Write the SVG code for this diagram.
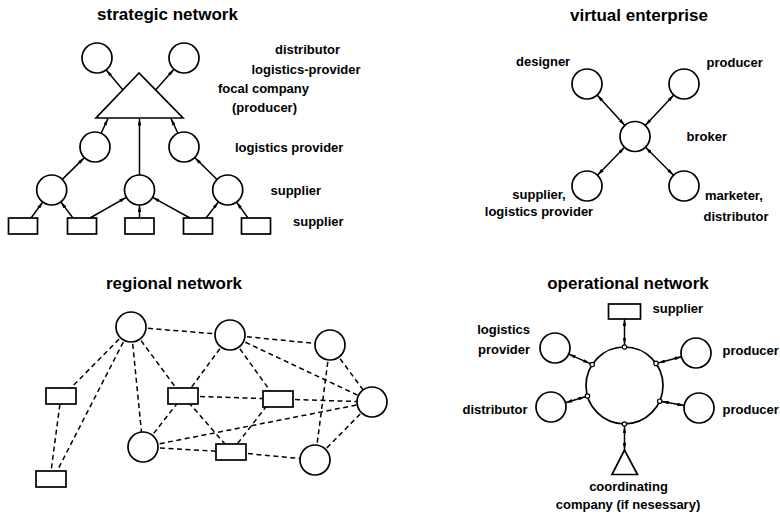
<svg xmlns="http://www.w3.org/2000/svg" width="780" height="517" viewBox="0 0 780 517">
  <style>
    .title { font-family: "Liberation Sans", Arial, sans-serif; font-weight: bold; font-size: 17px; fill: #000; text-anchor: middle; }
    .lbl { font-family: "Liberation Sans", Arial, sans-serif; font-weight: bold; font-size: 13px; fill: #000; }
    .mid { text-anchor: middle; }
    .end { text-anchor: end; }
    .shape { fill: #fff; stroke: #000; stroke-width: 1.7; }
    .port { fill: #fff; stroke: #000; stroke-width: 1.2; }
    .arrow { fill: none; stroke: #000; stroke-width: 1.5; marker-end: url(#head); }
    .both { fill: none; stroke: #000; stroke-width: 1.5; marker-start: url(#head); marker-end: url(#head); }
    .dash { fill: none; stroke: #000; stroke-width: 1.5; stroke-dasharray: 5 3.5; }
  </style>
  <defs>
    <marker id="head" viewBox="0 0 8 4" refX="8" refY="2" markerWidth="7" markerHeight="3.6" markerUnits="userSpaceOnUse" orient="auto-start-reverse">
      <path d="M0,0 L8,2 L0,4 z" fill="#000"/>
    </marker>
  </defs>
  <rect width="780" height="517" fill="#fff"/>

  <!-- ===== strategic network ===== -->
  <text class="title" x="167.5" y="20">strategic network</text>
  <g id="strategic-connectors">
    <line class="arrow" x1="123" y1="90" x2="106.2" y2="69.9"/>
    <line class="arrow" x1="155.6" y1="90" x2="174" y2="69.2"/>
    <line class="arrow" x1="101.1" y1="133.3" x2="108" y2="118.5"/>
    <line class="arrow" x1="177.9" y1="133.3" x2="171" y2="118.5"/>
    <line class="arrow" x1="139.5" y1="175" x2="139.5" y2="118.5"/>
    <line class="arrow" x1="62.3" y1="179.4" x2="84.4" y2="157.6"/>
    <line class="arrow" x1="217" y1="179.5" x2="194.7" y2="157.5"/>
    <line class="arrow" x1="31" y1="218" x2="42.8" y2="202.1"/>
    <line class="arrow" x1="73" y1="218" x2="60.8" y2="201.9"/>
    <line class="arrow" x1="90" y1="218" x2="126.2" y2="197.4"/>
    <line class="arrow" x1="139.5" y1="218" x2="139.5" y2="205"/>
    <line class="arrow" x1="190" y1="218" x2="152.6" y2="197.3"/>
    <line class="arrow" x1="206" y1="218" x2="218.5" y2="201.9"/>
    <line class="arrow" x1="248" y1="218" x2="236.5" y2="202.1"/>
  </g>
  <g id="sn-distributor-left"><circle class="shape" cx="97" cy="58" r="15"/></g>
  <g id="sn-distributor-right"><circle class="shape" cx="184" cy="58" r="15"/></g>
  <g id="sn-focal-company"><polygon class="shape" points="139,73 96,118 183,118"/></g>
  <g id="sn-logistics-left"><circle class="shape" cx="95" cy="147" r="15"/></g>
  <g id="sn-logistics-right"><circle class="shape" cx="184" cy="147" r="15"/></g>
  <g id="sn-supplier-1"><circle class="shape" cx="51.7" cy="190" r="15"/></g>
  <g id="sn-supplier-2"><circle class="shape" cx="139.5" cy="190" r="15"/></g>
  <g id="sn-supplier-3"><circle class="shape" cx="227.7" cy="190" r="15"/></g>
  <g id="sn-sub-1"><rect class="shape" x="8.5" y="218" width="29" height="16"/></g>
  <g id="sn-sub-2"><rect class="shape" x="67.5" y="218" width="29" height="16"/></g>
  <g id="sn-sub-3"><rect class="shape" x="125" y="218" width="29" height="16"/></g>
  <g id="sn-sub-4"><rect class="shape" x="183.5" y="218" width="29" height="16"/></g>
  <g id="sn-sub-5"><rect class="shape" x="241.5" y="218" width="29" height="16"/></g>
  <g id="sn-labels">
    <text class="lbl" x="275" y="54">distributor</text>
    <text class="lbl" x="251.5" y="74">logistics-provider</text>
    <text class="lbl" x="218" y="93">focal company</text>
    <text class="lbl" x="232" y="112">(producer)</text>
    <text class="lbl" x="235" y="151.5">logistics provider</text>
    <text class="lbl" x="270.5" y="195">supplier</text>
    <text class="lbl" x="293" y="226">supplier</text>
  </g>

  <!-- ===== virtual enterprise ===== -->
  <text class="title" x="639" y="20.5">virtual enterprise</text>
  <g id="virtual-connectors">
    <line class="both" x1="597.1" y1="95.1" x2="624.9" y2="125.4"/>
    <line class="both" x1="673.8" y1="95" x2="645.2" y2="125.5"/>
    <line class="both" x1="597.4" y1="175.2" x2="624.6" y2="147.3"/>
    <line class="both" x1="673.5" y1="175.3" x2="645.5" y2="147.3"/>
  </g>
  <g id="ve-designer"><circle class="shape" cx="587" cy="84" r="15"/></g>
  <g id="ve-producer"><circle class="shape" cx="684" cy="84" r="15"/></g>
  <g id="ve-broker"><circle class="shape" cx="635" cy="136.5" r="15"/></g>
  <g id="ve-supplier"><circle class="shape" cx="587" cy="186" r="15"/></g>
  <g id="ve-marketer"><circle class="shape" cx="684" cy="186" r="15"/></g>
  <g id="ve-labels">
    <text class="lbl" x="516" y="66">designer</text>
    <text class="lbl" x="706.5" y="66.5">producer</text>
    <text class="lbl" x="686.5" y="141">broker</text>
    <text class="lbl mid" x="539" y="198.5">supplier,</text>
    <text class="lbl mid" x="539" y="216">logistics provider</text>
    <text class="lbl" x="705" y="200">marketer,</text>
    <text class="lbl" x="703.5" y="220.5">distributor</text>
  </g>

  <!-- ===== regional network ===== -->
  <text class="title" x="174" y="289">regional network</text>
  <g id="regional-connectors">
    <line class="dash" x1="131" y1="327" x2="230" y2="335"/>
    <line class="dash" x1="230" y1="335" x2="330" y2="345"/>
    <line class="dash" x1="131" y1="327" x2="63" y2="396"/>
    <line class="dash" x1="131" y1="327" x2="53" y2="479"/>
    <line class="dash" x1="131" y1="327" x2="143" y2="447"/>
    <line class="dash" x1="131" y1="327" x2="182" y2="396"/>
    <line class="dash" x1="230" y1="335" x2="185" y2="396"/>
    <line class="dash" x1="230" y1="335" x2="276" y2="399"/>
    <line class="dash" x1="230" y1="335" x2="372" y2="402"/>
    <line class="dash" x1="330" y1="345" x2="372" y2="402"/>
    <line class="dash" x1="330" y1="345" x2="315" y2="460"/>
    <line class="dash" x1="61" y1="396" x2="50" y2="479"/>
    <line class="dash" x1="183" y1="396" x2="278" y2="399"/>
    <line class="dash" x1="278" y1="399" x2="372" y2="402"/>
    <line class="dash" x1="183" y1="396" x2="143" y2="447"/>
    <line class="dash" x1="183" y1="396" x2="232" y2="452"/>
    <line class="dash" x1="272" y1="399" x2="231" y2="452"/>
    <line class="dash" x1="143" y1="447" x2="372" y2="402"/>
    <line class="dash" x1="143" y1="447" x2="231" y2="452"/>
    <line class="dash" x1="231" y1="452" x2="315" y2="460"/>
    <line class="dash" x1="315" y1="460" x2="372" y2="402"/>
  </g>
  <g id="rn-node-a"><circle class="shape" cx="131" cy="327" r="15"/></g>
  <g id="rn-node-b"><circle class="shape" cx="230" cy="335" r="15"/></g>
  <g id="rn-node-c"><circle class="shape" cx="330" cy="345" r="15"/></g>
  <g id="rn-node-d"><circle class="shape" cx="372" cy="402" r="15"/></g>
  <g id="rn-node-e"><circle class="shape" cx="143" cy="447" r="15"/></g>
  <g id="rn-node-f"><circle class="shape" cx="315" cy="460" r="15"/></g>
  <g id="rn-unit-1"><rect class="shape" x="46" y="388" width="30" height="16"/></g>
  <g id="rn-unit-2"><rect class="shape" x="36" y="471" width="30" height="16"/></g>
  <g id="rn-unit-3"><rect class="shape" x="168" y="388" width="30" height="16"/></g>
  <g id="rn-unit-4"><rect class="shape" x="263" y="391" width="30" height="16"/></g>
  <g id="rn-unit-5"><rect class="shape" x="216" y="444" width="30" height="16"/></g>

  <!-- ===== operational network ===== -->
  <text class="title" x="628" y="289">operational network</text>
  <g id="operational-connectors">
    <line class="both" x1="624.5" y1="319" x2="624.5" y2="344.8"/>
    <line class="both" x1="568.7" y1="354.1" x2="590.2" y2="363.6"/>
    <line class="both" x1="681.5" y1="356.8" x2="658.1" y2="362.9"/>
    <line class="both" x1="565.4" y1="402.7" x2="585.4" y2="396.7"/>
    <line class="both" x1="684.2" y1="405.4" x2="661.9" y2="401.6"/>
    <line class="both" x1="624.5" y1="426.2" x2="624.5" y2="450"/>
  </g>
  <g id="on-ring">
    <circle cx="624.5" cy="385.5" r="38.5" fill="none" stroke="#000" stroke-width="1.7"/>
    <circle class="port" cx="624.5" cy="347" r="2.2"/>
    <circle class="port" cx="592.2" cy="364.5" r="2.2"/>
    <circle class="port" cx="656" cy="363.4" r="2.2"/>
    <circle class="port" cx="587.5" cy="396.1" r="2.2"/>
    <circle class="port" cx="659.7" cy="401.2" r="2.2"/>
    <circle class="port" cx="624.5" cy="424" r="2.2"/>
  </g>
  <g id="on-supplier"><rect class="shape" x="608.5" y="304" width="32" height="15"/></g>
  <g id="on-logistics"><circle class="shape" cx="555" cy="348" r="15"/></g>
  <g id="on-producer-upper"><circle class="shape" cx="696" cy="353" r="15"/></g>
  <g id="on-distributor"><circle class="shape" cx="551" cy="407" r="15"/></g>
  <g id="on-producer-lower"><circle class="shape" cx="699" cy="408" r="15"/></g>
  <g id="on-coordinator"><polygon class="shape" points="624.5,450 612,474.5 637.5,474.5"/></g>
  <g id="on-labels">
    <text class="lbl" x="652.5" y="313">supplier</text>
    <text class="lbl end" x="530" y="334">logistics</text>
    <text class="lbl end" x="530" y="353.5">provider</text>
    <text class="lbl" x="722.5" y="355">producer</text>
    <text class="lbl end" x="527.5" y="414">distributor</text>
    <text class="lbl" x="722.5" y="414">producer</text>
    <text class="lbl mid" x="628.5" y="491">coordinating</text>
    <text class="lbl mid" x="628" y="509">company (if nesessary)</text>
  </g>
</svg>
